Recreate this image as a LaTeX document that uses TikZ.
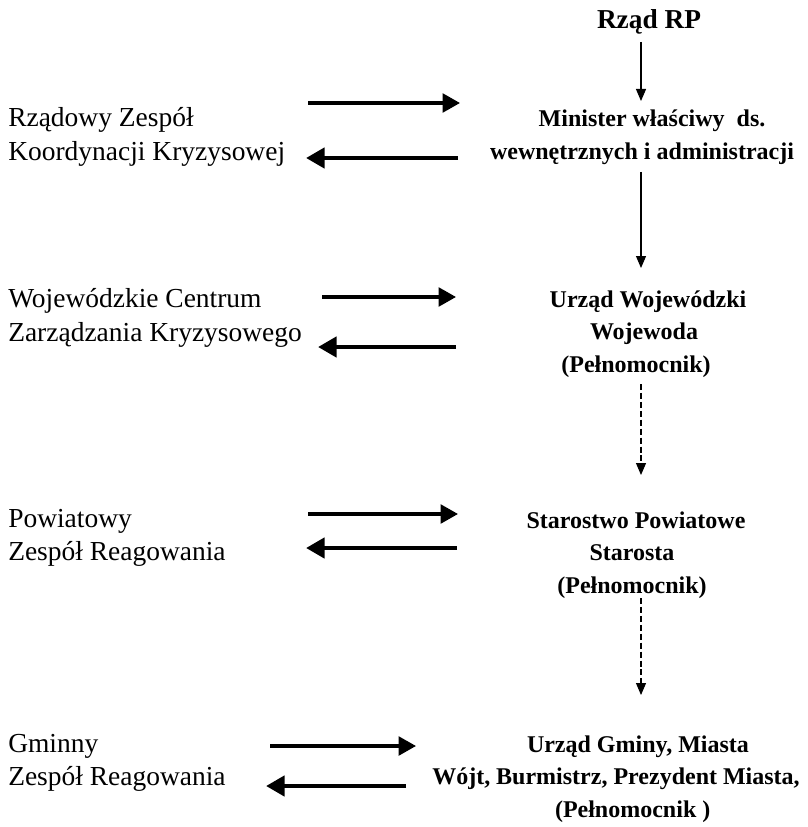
\documentclass[tikz,border=0pt]{standalone}
\usepackage{fontspec}
\setmainfont{Liberation Serif}
\usetikzlibrary{arrows.meta}
\begin{document}
\begin{tikzpicture}[x=0.75pt,y=-0.75pt,
 lbl/.style={anchor=west,align=left,font=\fontsize{20.6}{25}\selectfont,inner sep=0},
 org/.style={align=center,font=\bfseries\fontsize{18}{24.5}\selectfont,inner sep=0},
 thinar/.style={line width=0.8pt,-{Triangle[length=9pt,width=7.5pt]}},
 dashar/.style={thinar,dash pattern=on 4.5pt off 2.2pt},
 rar/.style={line width=2.4pt,-{Triangle[length=13pt,width=14pt]}},
 lar/.style={line width=3.6pt,-{Triangle[length=14pt,width=15pt]}},
]
\useasboundingbox (0,0) rectangle (807,827);

% right column
\node[org,font=\bfseries\fontsize{20.5}{24}\selectfont] (rzad) at (649,22) {Rząd RP};
\node[org] (min) at (642,137) {\hspace*{15pt}Minister właściwy\ \ ds.\\wewnętrznych i administracji};
\node[org] (woj) at (640,334) {\hspace*{12pt}Urząd Wojewódzki\\\hspace*{6pt}Wojewoda\\(Pełnomocnik)\hspace*{6pt}};
\node[org] (star) at (632,555) {\hspace*{6pt}Starostwo Powiatowe\\Starosta\hspace*{15pt}\\(Pełnomocnik)};
\node[org] (gm) at (616,779) {\hspace*{33pt}Urząd Gminy, Miasta\\Wójt, Burmistrz, Prezydent Miasta,\\\hspace*{25pt}(Pełnomocnik )};

% left column
\node[lbl] (l1) at (8,137) {Rządowy Zespół\\Koordynacji Kryzysowej};
\node[lbl] (l2) at (8,318) {Wojewódzkie Centrum\\Zarządzania Kryzysowego};
\node[lbl] (l3) at (8,538) {Powiatowy\\Zespół Reagowania};
\node[lbl] (l4) at (8,763) {Gminny\\Zespół Reagowania};

% vertical connectors
\coordinate (v1a) at (641,42);  \coordinate (v1b) at (641,101);
\coordinate (v2a) at (641,172); \coordinate (v2b) at (641,268);
\coordinate (v3a) at (641,384); \coordinate (v3b) at (641,475);
\coordinate (v4a) at (641,598); \coordinate (v4b) at (641,695);
\draw[thinar] (v1a) -- (v1b);
\draw[thinar] (v2a) -- (v2b);
\draw[dashar] (v3a) -- (v3b);
\draw[dashar] (v4a) -- (v4b);

% horizontal connectors
\coordinate (h1a) at (308,103); \coordinate (h1b) at (460,103);
\coordinate (h1c) at (458,158); \coordinate (h1d) at (306,158);
\coordinate (h2a) at (322,297); \coordinate (h2b) at (456,297);
\coordinate (h2c) at (456,347); \coordinate (h2d) at (318,347);
\coordinate (h3a) at (308,514); \coordinate (h3b) at (458,514);
\coordinate (h3c) at (457,548); \coordinate (h3d) at (306,548);
\coordinate (h4a) at (270,746); \coordinate (h4b) at (416,746);
\coordinate (h4c) at (406,786); \coordinate (h4d) at (266,786);
\draw[rar] (h1a) -- (h1b);
\draw[lar] (h1c) -- (h1d);
\draw[rar] (h2a) -- (h2b);
\draw[lar] (h2c) -- (h2d);
\draw[rar] (h3a) -- (h3b);
\draw[lar] (h3c) -- (h3d);
\draw[rar] (h4a) -- (h4b);
\draw[lar] (h4c) -- (h4d);
\end{tikzpicture}
\end{document}
